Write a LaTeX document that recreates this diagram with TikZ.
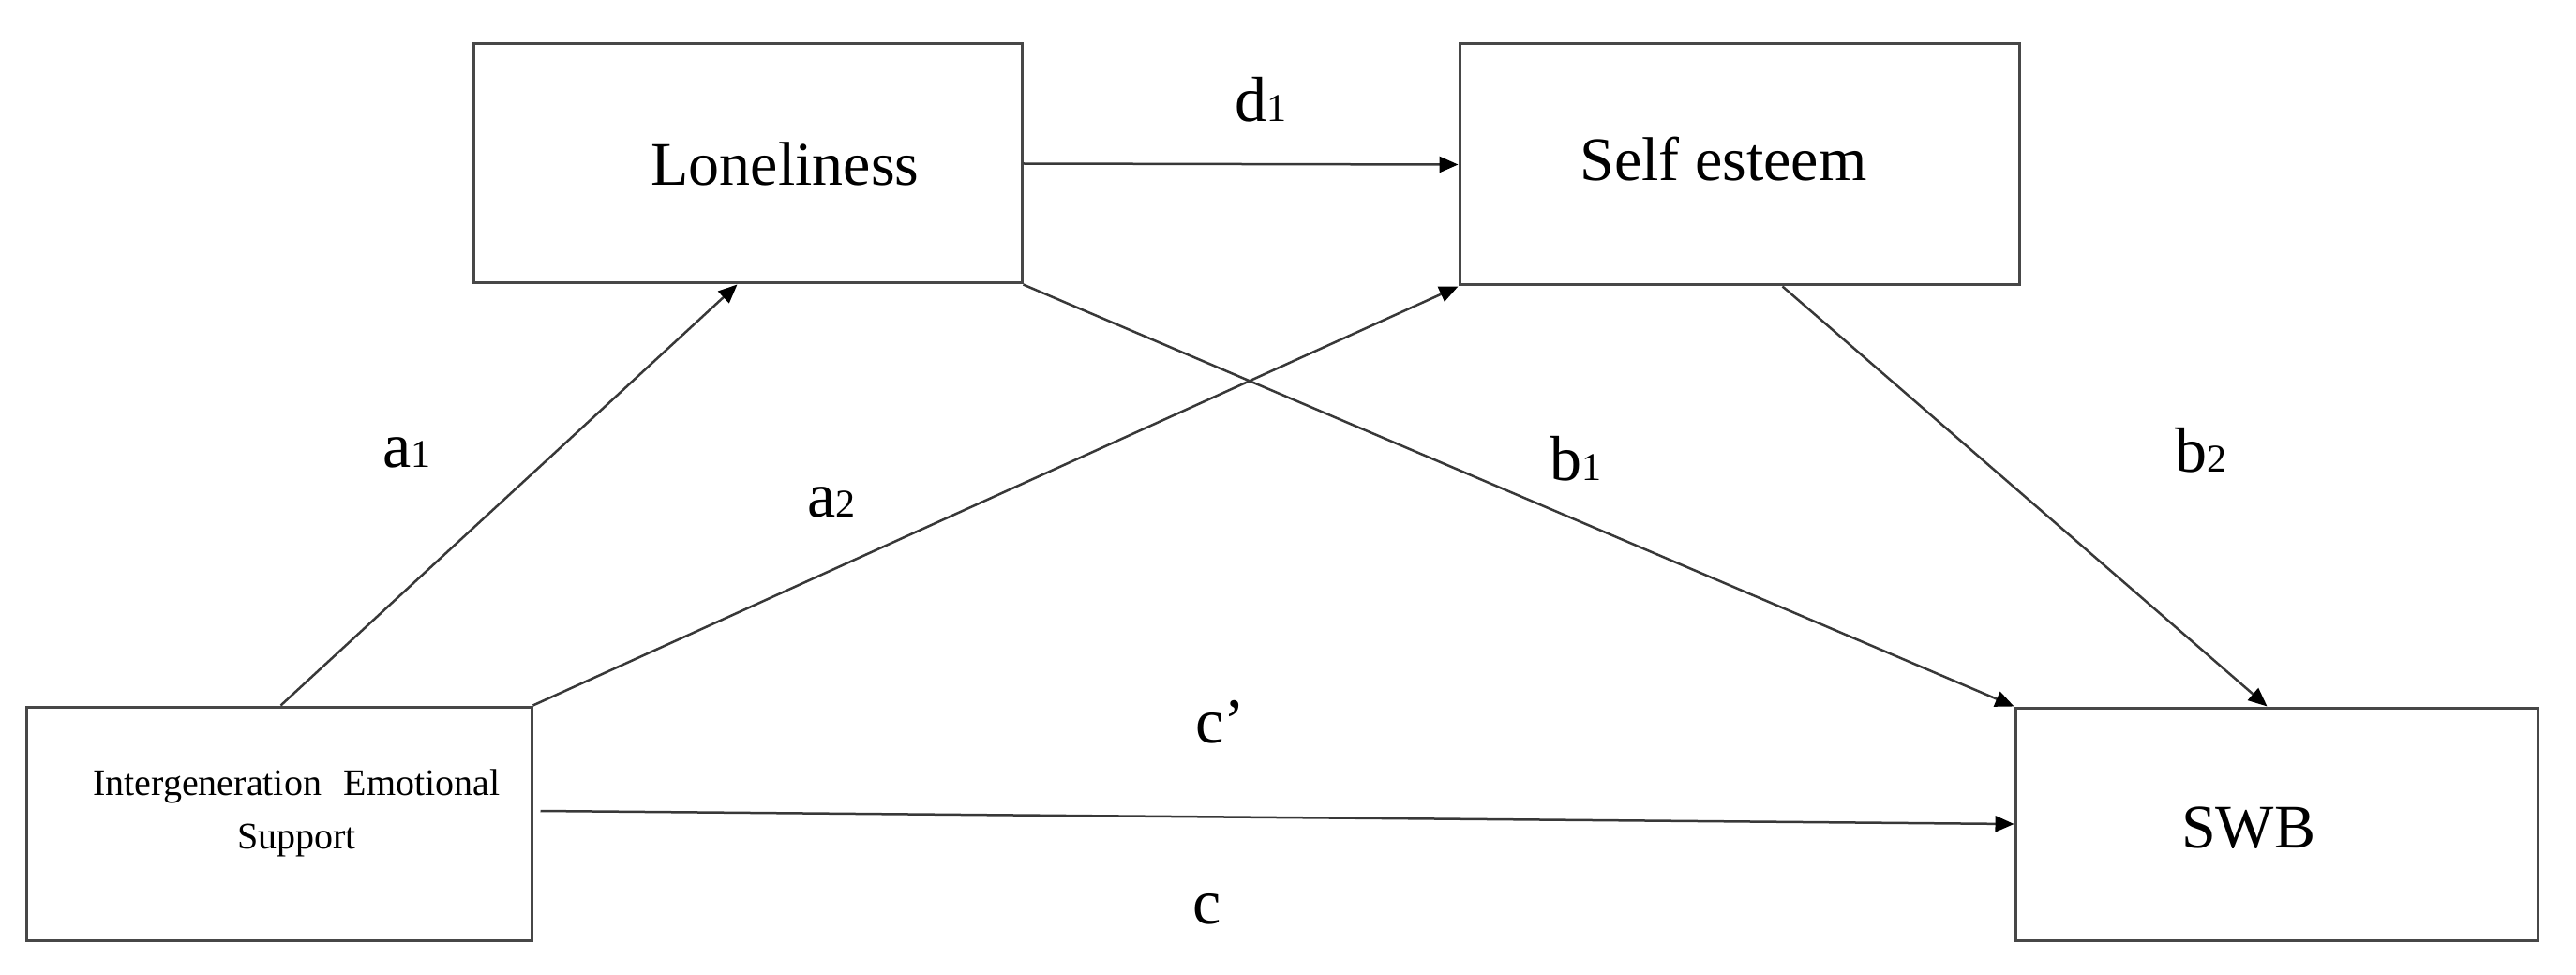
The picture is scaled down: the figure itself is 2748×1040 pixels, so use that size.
\documentclass[tikz,border=0pt]{standalone}
\usepackage{fontspec}
\setmainfont{Liberation Serif}
\usetikzlibrary{arrows.meta}
\newcommand\lowidx[1]{{\fontsize{42pt}{44pt}\selectfont #1}}
\begin{document}
\begin{tikzpicture}[x=1pt,y=-1pt,
  box/.style={draw=black!72, line width=3pt, inner sep=0pt, fill=white},
  boxfont/.style={font=\fontsize{66pt}{70pt}\selectfont},
  lab/.style={font=\fontsize{68pt}{72pt}\selectfont, inner sep=0pt, anchor=base west},
  conn/.style={draw=black!78, line width=2.5pt, -{Triangle[length=20pt,width=17pt,color=black]}}]
\fill[white] (0,0) rectangle (2748,1040);
\useasboundingbox (0,0) rectangle (2748,1040);

\node[box, minimum width=585pt, minimum height=255pt,
      label={[boxfont, xshift=40pt]center:Loneliness}] (lon) at (797.5,174.5) {};
\node[box, minimum width=597pt, minimum height=257pt,
      label={[boxfont, xshift=-17pt, yshift=5.5pt]center:Self esteem}] (se) at (1855.5,175.5) {};
\node[box, minimum width=539pt, minimum height=249pt,
      label={[font=\fontsize{40pt}{57pt}\selectfont, align=center, xshift=19pt, yshift=11pt]center:Intergeneration\hspace{24pt}Emotional\\Support}] (ies) at (297.5,878.5) {};
\node[box, minimum width=557pt, minimum height=248pt,
      label={[boxfont, xshift=-30pt, yshift=-4.5pt]center:SWB}] (swb) at (2428.5,879) {};

\draw[conn] ([xshift=2pt]ies.north) -- ([xshift=-11pt]lon.south);
\draw[conn] (ies.north east) -- (se.south west);
\draw[conn] (lon.east) -- (se.west);
\draw[conn] (lon.south east) -- (swb.north west);
\draw[conn] ([xshift=46pt]se.south) -- ([xshift=-10pt]swb.north);
\draw[conn] ([xshift=8pt,yshift=13.5pt]ies.east) -- (swb.west);

\node[lab] (la1) at (408,498) {a\lowidx{1}};
\node[lab] (la2) at (861,551) {a\lowidx{2}};
\node[lab] (ld1) at (1317,130) {d\lowidx{1}};
\node[lab] (lb1) at (1653,512) {b\lowidx{1}};
\node[lab] (lb2) at (2320,503) {b\lowidx{2}};
\node[lab] (lcp) at (1275,792) {c’};
\node[lab] (lc) at (1272,985) {c};
\end{tikzpicture}
\end{document}
